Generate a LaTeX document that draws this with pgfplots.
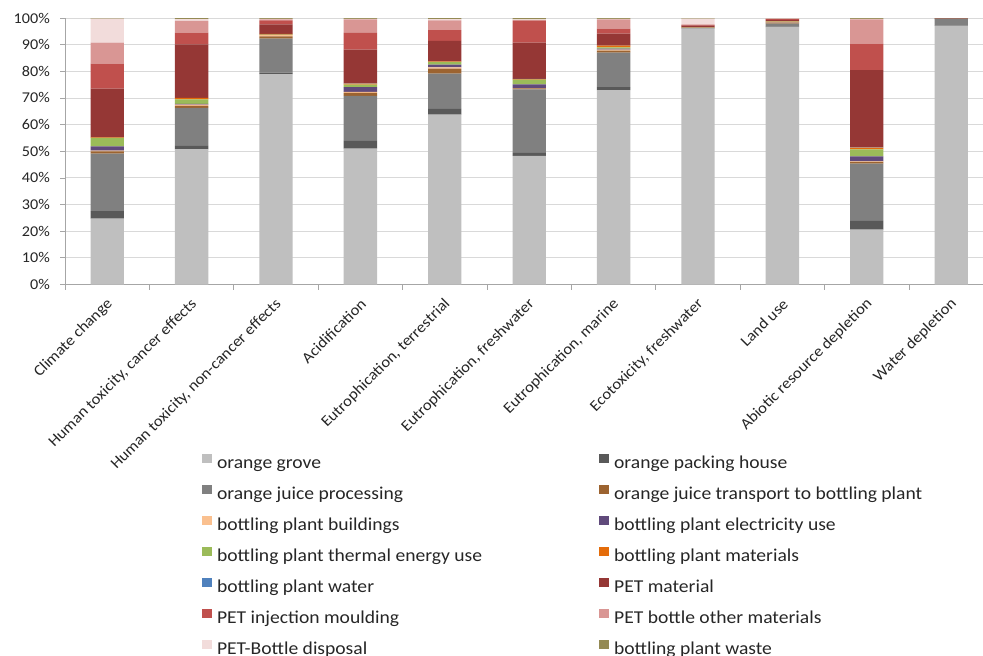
\documentclass[border=0pt]{standalone}
\usepackage{pgfplots}
\pgfplotsset{compat=1.18}
\usepackage{pgfplotstable}
\usepackage{fontspec}
\setmainfont{Carlito}[FakeStretch=1.08]

\definecolor{cGrove}{HTML}{BFBFBF}
\definecolor{cPacking}{HTML}{595959}
\definecolor{cProcessing}{HTML}{808080}
\definecolor{cTransport}{HTML}{9C6330}
\definecolor{cBuildings}{HTML}{FAC08F}
\definecolor{cElectricity}{HTML}{604A7B}
\definecolor{cThermal}{HTML}{9BBB59}
\definecolor{cMaterials}{HTML}{E46C0A}
\definecolor{cWater}{HTML}{4F81BD}
\definecolor{cPetmat}{HTML}{953735}
\definecolor{cInjection}{HTML}{C0504D}
\definecolor{cOther}{HTML}{D99694}
\definecolor{cDisposal}{HTML}{F2DCDB}
\definecolor{cWaste}{HTML}{948A54}
\definecolor{axisgray}{HTML}{A6A6A6}
\definecolor{gridgray}{HTML}{D9D9D9}
\definecolor{textgray}{HTML}{262626}

% x: 0 Climate change, 1 Human tox cancer, 2 Human tox non-cancer, 3 Acidification,
% 4 Eutr. terrestrial, 5 Eutr. freshwater, 6 Eutr. marine, 7 Ecotoxicity freshwater,
% 8 Land use, 9 Abiotic resource depletion, 10 Water depletion
\pgfplotstableread{
x  grove packing processing transport buildings electricity thermal materials water petmat injection other disposal waste
0  24.75 2.75    21.6       0.9       0.2       1.6         3.2     0.2       0.05  18.25  9.4       7.85  9.0      0.25
1  50.75 1.25    14.25      0.75      0.5       0.25        1.75    0.5       0     20.1   4.4       4.4   0.7      0.4
2  78.9  0.6     12.75      0.85      0.5       0.1         0.1     0.2       0     3.6    1.5       0.4   0.2      0.3
3  51.0  2.9     16.85      1.15      0.35      1.85        0.9     0.4       0.05  12.7   6.3       5.0   0.2      0.35
4  63.75 2.15    13.2       1.9       0.5       1.0         0.9     0.35      0.05  7.65   4.0       3.7   0.4      0.45
5  48.25 1.15    23.85      0.35      0.1       1.4         1.8     0.2       0.05  13.6   8.15      0.3   0.3      0.5
6  72.9  1.2     12.9       0.75      0.35      0.4         0.5     0.6       0     4.5    1.9       3.5   0.2      0.3
7  96.0  0.15    0.15       0.1       0.05      0.05        0.05    0.05      0     0.5    0.2       0.3   2.2      0.2
8  96.6  0.2     1.1        0.4       0.1       0.1         0.1     0.1       0     0.6    0.3       0.2   0.1      0.1
9  20.6  3.3     21.5       0.6       0.25      1.85        2.65    0.65      0.05  28.95  10.0      9.1   0.2      0.3
10 97.0  0.1     2.5        0.1       0       0.05        0.05    0.05      0.05  0.05   0         0     0        0.05
}\datatable

\begin{document}
\begin{tikzpicture}[x=1bp,y=1bp]
\useasboundingbox (0,0) rectangle (983,-656);
\begin{axis}[
  at={(65bp,-284.5bp)}, anchor=south west,
  width=918bp, height=266.5bp, scale only axis,
  xmin=-0.5, xmax=10.377, ymin=0, ymax=100,
  ybar stacked, bar width=0.395,
  axis lines*=left,
  axis line style={draw=axisgray, line width=0.8bp, -},
  ytick={0,10,...,100},
  yticklabel={\pgfmathprintnumber{\tick}\%},
  /pgf/number format/assume math mode=true,
  ymajorgrids, grid style={draw=gridgray, line width=0.9bp},
  tick align=outside,
  major tick length=5bp, minor tick length=5bp,
  tick style={draw=axisgray, line width=0.8bp},
  xtick={0,...,10},
  major x tick style={draw=none},
  minor xtick={-0.5,0.5,...,9.5},
  minor x tick style={draw=axisgray, line width=0.8bp},
  xticklabels={Climate change, {Human toxicity, cancer effects}, {Human toxicity, non-cancer effects}, Acidification, {Eutrophication, terrestrial}, {Eutrophication, freshwater}, {Eutrophication, marine}, {Ecotoxicity, freshwater}, Land use, Abiotic resource depletion, Water depletion},
  xticklabel style={font=\fontsize{15.5}{18}\selectfont, text=textgray, xshift=3bp, yshift=-12bp, rotate=45, anchor=east, inner sep=0pt},
  yticklabel style={font=\fontsize{15}{18}\selectfont, text=textgray, anchor=east, inner sep=0pt, xshift=-10bp},
  legend columns=2,
  legend cell align=left,
  legend image code/.code={\fill[#1] (0bp,0.5bp) rectangle (10bp,10bp);},
  legend style={draw=none, fill=none, inner sep=0pt, outer sep=0pt,
    at={(axis description cs:0.14924,-0.6349)}, anchor=north west,
    font=\fontsize{18.2}{22}\selectfont, text=textgray,
    row sep=12.5bp,
    nodes={inner sep=0pt, text height=13bp, text depth=4bp},
    /tikz/every odd column/.append style={column sep=5bp},
    /tikz/every even column/.append style={column sep=117bp}},
]
\addplot+[fill=cGrove, draw=none] table[x=x, y=grove] {\datatable};
\addlegendentry{orange grove}
\addplot+[fill=cPacking, draw=none] table[x=x, y=packing] {\datatable};
\addlegendentry{orange packing house}
\addplot+[fill=cProcessing, draw=none] table[x=x, y=processing] {\datatable};
\addlegendentry{orange juice processing}
\addplot+[fill=cTransport, draw=none] table[x=x, y=transport] {\datatable};
\addlegendentry{orange juice transport to bottling plant}
\addplot+[fill=cBuildings, draw=none] table[x=x, y=buildings] {\datatable};
\addlegendentry{bottling plant buildings}
\addplot+[fill=cElectricity, draw=none] table[x=x, y=electricity] {\datatable};
\addlegendentry{bottling plant electricity use}
\addplot+[fill=cThermal, draw=none] table[x=x, y=thermal] {\datatable};
\addlegendentry{bottling plant thermal energy use}
\addplot+[fill=cMaterials, draw=none] table[x=x, y=materials] {\datatable};
\addlegendentry{bottling plant materials}
\addplot+[fill=cWater, draw=none] table[x=x, y=water] {\datatable};
\addlegendentry{bottling plant water}
\addplot+[fill=cPetmat, draw=none] table[x=x, y=petmat] {\datatable};
\addlegendentry{PET material}
\addplot+[fill=cInjection, draw=none] table[x=x, y=injection] {\datatable};
\addlegendentry{PET injection moulding}
\addplot+[fill=cOther, draw=none] table[x=x, y=other] {\datatable};
\addlegendentry{PET bottle other materials}
\addplot+[fill=cDisposal, draw=none] table[x=x, y=disposal] {\datatable};
\addlegendentry{PET-Bottle disposal}
\addplot+[fill=cWaste, draw=none] table[x=x, y=waste] {\datatable};
\addlegendentry{bottling plant waste}
\end{axis}
\end{tikzpicture}
\end{document}
